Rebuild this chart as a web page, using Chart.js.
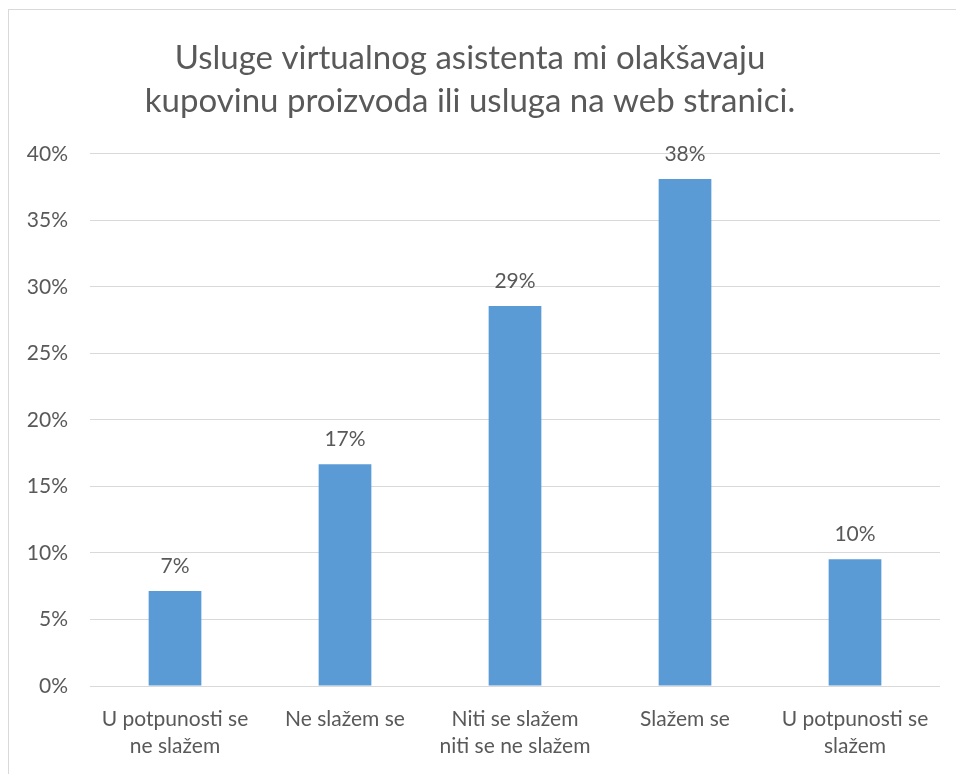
<!DOCTYPE html>
<html>
<head>
<meta charset="utf-8">
<script src="https://cdn.jsdelivr.net/npm/chart.js@4"></script>
<style>
  html, body { margin: 0; padding: 0; background: #fff; }
  #wrap { position: relative; width: 956px; height: 774px; overflow: hidden; }
  #frame { position: absolute; left: 8px; top: 9px; width: 980px; height: 800px; border: 1px solid #d9d9d9; }
  canvas { position: absolute; left: 0; top: 0; }
</style>
</head>
<body>
<div id="wrap">
  <div id="frame"></div>
  <canvas id="myChart" width="956" height="774"></canvas>
</div>
<script>
const titleLines = ['Usluge virtualnog asistenta mi olakšavaju', 'kupovinu proizvoda ili usluga na web stranici.']
const categories = [
  ['U potpunosti se', 'ne slažem'],
  ['Ne slažem se'],
  ['Niti se slažem', 'niti se ne slažem'],
  ['Slažem se'],
  ['U potpunosti se', 'slažem']
]
const percents = [7.14, 16.67, 28.57, 38.10, 9.52]
const yTicks = [0, 5, 10, 15, 20, 25, 30, 35, 40]

const FONT = 'Lato, "Open Sans", sans-serif'
const GREY = '#595959'

// value labels over bars
const barLabels = {
  id: 'barLabels',
  afterDatasetsDraw(chart) {
    const ctx = chart.ctx
    const meta = chart.getDatasetMeta(0)
    ctx.save()
    ctx.font = '21px ' + FONT
    ctx.fillStyle = GREY
    ctx.textAlign = 'center'
    ctx.textBaseline = 'middle'
    meta.data.forEach((bar, i) => {
      ctx.fillText(Math.round(percents[i]) + '%', bar.x, bar.y - 25)
    })
    ctx.restore()
  }
}

function createChart() {
  const ctx = document.getElementById('myChart')
  new Chart(ctx, {
    type: 'bar',
    data: {
      labels: categories,
      datasets: [{
        data: percents,
        backgroundColor: '#5b9bd5',
        borderWidth: 0,
        categoryPercentage: 1,
        barPercentage: 0.31
      }]
    },
    options: {
      responsive: false,
      animation: false,
      layout: { padding: { left: 0, right: 16, top: 0, bottom: 0 } },
      plugins: {
        legend: { display: false },
        tooltip: { enabled: false },
        title: {
          display: true,
          text: titleLines,
          color: GREY,
          font: { family: FONT, size: 33, weight: 'normal', lineHeight: 1.3 },
          padding: { top: 37, bottom: 31 }
        }
      },
      scales: {
        x: {
          grid: { display: false },
          border: { display: false },
          ticks: {
            color: GREY,
            font: { family: FONT, size: 21, lineHeight: 1.29 },
            maxRotation: 0,
            padding: 12
          },
          afterFit(scale) { scale.height = 88 }
        },
        y: {
          min: 0,
          max: 40,
          afterBuildTicks(scale) { scale.ticks = yTicks.map(v => ({ value: v })) },
          grid: { color: '#d9d9d9', lineWidth: 1, drawTicks: false },
          border: { display: false },
          ticks: {
            color: GREY,
            font: { family: FONT, size: 21 },
            padding: 22,
            callback: v => v + '%'
          },
          afterFit(scale) { scale.width = 90 }
        }
      }
    },
    plugins: [barLabels]
  })
}
createChart()
</script>
</body>
</html>
